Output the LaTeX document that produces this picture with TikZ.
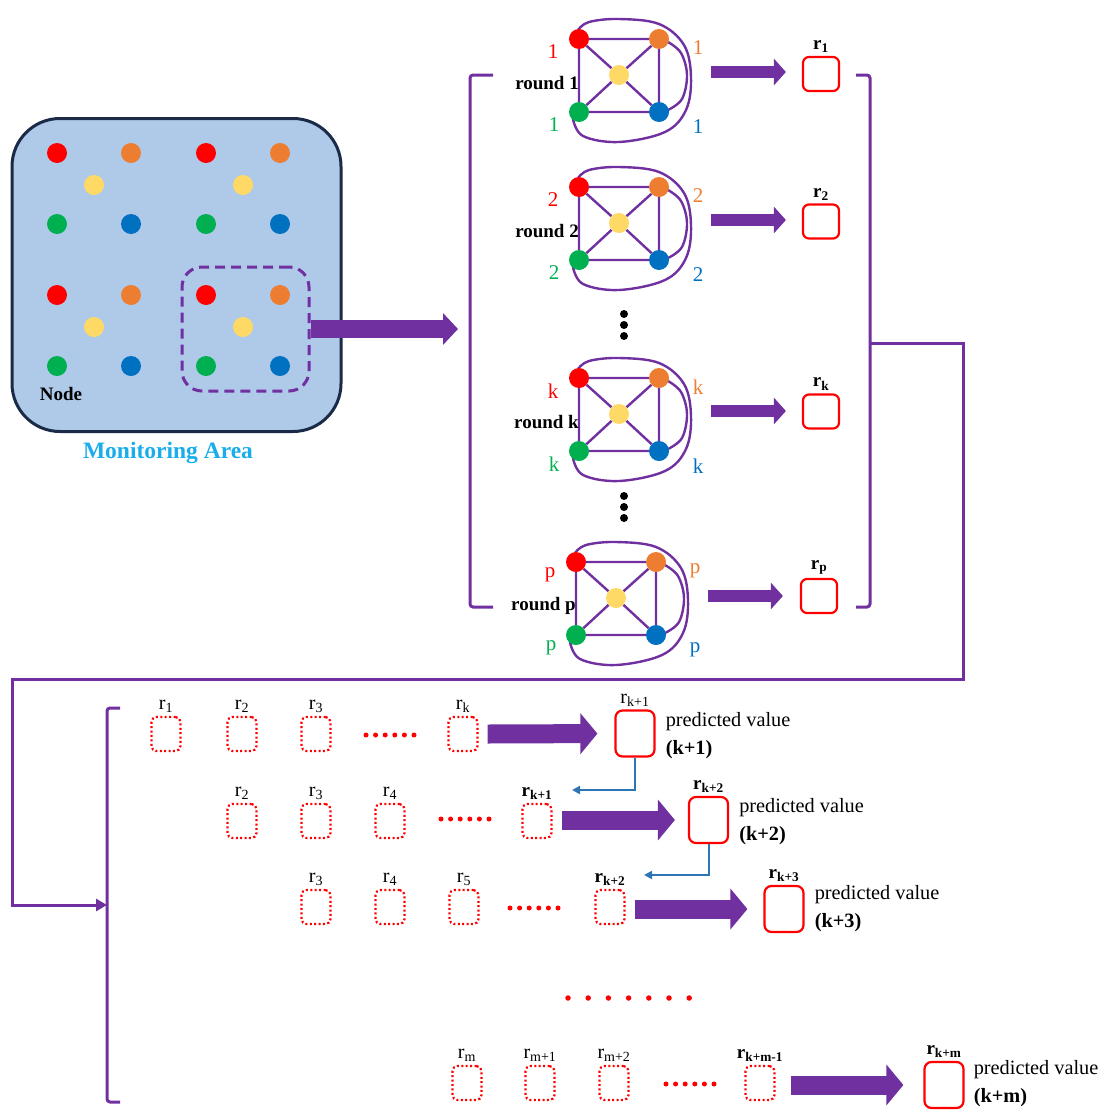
\documentclass[tikz,border=0pt]{standalone}
\usepackage{fontspec}
\setmainfont{Liberation Serif}
\usetikzlibrary{arrows.meta}

\definecolor{cred}{HTML}{FF0000}
\definecolor{corange}{HTML}{ED7D31}
\definecolor{cyellow}{HTML}{FFD966}
\definecolor{cgreen}{HTML}{00B050}
\definecolor{cblue}{HTML}{0070C0}
\definecolor{cpurple}{HTML}{7030A0}
\definecolor{areafill}{HTML}{AFCAE8}
\definecolor{areaedge}{HTML}{1B2A47}
\definecolor{titlecyan}{HTML}{1AADEB}
\definecolor{linkblue}{HTML}{2E75B6}

\tikzset{
  dot/.style={circle, inner sep=0pt, minimum size=20pt},
  gdot/.style={circle, inner sep=0pt, minimum size=20pt},
  gedge/.style={draw=cpurple, line width=2.4pt},
  num/.style={font=\fontsize{21}{24}\selectfont, inner sep=0pt},
  rlbl/.style={font=\fontsize{19}{22}\selectfont\bfseries, inner sep=0pt},
  rbox/.style={draw=cred, line width=2.2pt, rounded corners=6pt, minimum width=36pt, minimum height=34pt},
  dbox/.style={draw=cred, line width=2.2pt, dash pattern=on 2pt off 2.4pt, rounded corners=5pt, minimum width=29pt, minimum height=34pt},
  pbox/.style={draw=cred, line width=2.2pt, rounded corners=7pt, minimum width=39pt, minimum height=46pt},
  toplab/.style={font=\fontsize{19}{22}\selectfont\bfseries, inner sep=0pt, anchor=south},
  seqlab/.style={font=\fontsize{20}{22}\selectfont, inner sep=0pt, anchor=south},
  seqlabb/.style={font=\fontsize{19}{22}\selectfont\bfseries, inner sep=0pt, anchor=south},
  ptext/.style={font=\fontsize{20.3}{28}\selectfont, align=left, anchor=west, inner sep=0pt},
  bracket/.style={draw=cpurple, line width=3pt, rounded corners=3pt},
  conn/.style={draw=cpurple, line width=3pt, -{Triangle[length=11pt,width=12pt]}},
  bigarrow/.style={draw=cpurple, line width=18pt, -{Triangle[length=15pt,width=31pt]}},
  midarrow/.style={draw=cpurple, line width=12pt, -{Triangle[length=12pt,width=26pt]}},
  rowarrow/.style={draw=cpurple, line width=19pt, -{Triangle[length=17pt,width=40pt]}},
  bconn/.style={draw=linkblue, line width=2pt, -{Triangle[length=8pt,width=8pt]}},
  reddot/.style={circle, fill=cred, inner sep=0pt, minimum size=5pt},
  blackdot/.style={circle, fill=black, inner sep=0pt, minimum size=8pt},
  pics/wsn/.style={code={
    % outer loops of the round graph
    \draw[gedge] plot[smooth, tension=0.6] coordinates {(-46,44) (-36,61) (0,67) (46,57) (67,35) (72,2) (65,-30) (40,-51) (0,-56) (-30,-53) (-41,-45)};
    \draw[gedge] plot[smooth, tension=0.6] coordinates {(49,-33) (62,-22) (68,0) (63,24) (49,35)};
    % sensor nodes of the round
    \node[gdot,fill=cred] (-r) at (-40,-36) {};
    \node[gdot,fill=corange] (-o) at (40,-36) {};
    \node[gdot,fill=cgreen] (-g) at (-40,37) {};
    \node[gdot,fill=cblue] (-b) at (40,37) {};
    \node[gdot,fill=cyellow] (-y) at (0,0) {};
    \draw[gedge] (-r) -- (-o) (-o) -- (-b) (-b) -- (-g) (-g) -- (-r)
      (-y) -- (-r) (-y) -- (-o) (-y) -- (-g) (-y) -- (-b);
    \node[num,text=cred] (-lr) at (-66,-23) {#1};
    \node[num,text=corange] (-lo) at (79,-27) {#1};
    \node[num,text=cgreen] (-lg) at (-65,50) {#1};
    \node[num,text=cblue] (-lb) at (79,52) {#1};
    \node[rlbl,anchor=east] (-t) at (-40,8) {round #1};
  }}
}

\begin{document}
\begin{tikzpicture}[x=1pt,y=-1pt]
\useasboundingbox (0,0) rectangle (1106,1111);

% ---------- monitoring area ----------
\node[draw=areaedge, fill=areafill, line width=3pt, rounded corners=48pt,
      minimum width=329pt, minimum height=313pt] (area) at (176.5,275) {};
\foreach \x/\c [count=\i] in {57/cred,131/corange,206/cred,280/corange}{
  \node[dot,fill=\c] (a1\i) at (\x,153) {};
  \node[dot,fill=\c] (a3\i) at (\x,295) {};
}
\foreach \x/\c [count=\i] in {57/cgreen,131/cblue,206/cgreen,280/cblue}{
  \node[dot,fill=\c] (a2\i) at (\x,224) {};
  \node[dot,fill=\c] (a4\i) at (\x,366) {};
}
\foreach \x [count=\i] in {94,243}{
  \node[dot,fill=cyellow] (ay1\i) at (\x,185) {};
  \node[dot,fill=cyellow] (ay2\i) at (\x,327) {};
}
\node[draw=cpurple, dashed, dash pattern=on 10pt off 6pt, line width=3pt, rounded corners=20pt,
      minimum width=127pt, minimum height=124pt] (sel) at (245.5,329) {};
\node[font=\fontsize{19}{22}\selectfont\bfseries] (nodelab) at (61,394) {Node};
\node[font=\fontsize{23.5}{26}\selectfont\bfseries, text=titlecyan] (title) at (168,453) {Monitoring Area};

% ---------- rounds ----------
\draw[bracket] (493,75) -- (470,75) -- (470,607) -- (493,607);
\coordinate (brL) at (458,329);
\draw[bigarrow] (sel.east) -- (brL);

\pic (g1) at (619,75) {wsn=1};
\pic (g2) at (619,223) {wsn=2};
\pic (gk) at (619,414) {wsn=k};
\pic (gp) at (616,598) {wsn=p};

\foreach \y [count=\i] in {314,325,336}{
  \node[blackdot] (vd1\i) at (624,\y) {};
  \node[blackdot] (vd2\i) at (624,\y+182) {};
}

\node[rbox] (r1) at (821,74) {};
\node[rbox] (r2) at (821,221.5) {};
\node[rbox] (rk) at (821,411.5) {};
\node[rbox] (rp) at (819,596) {};
\node[toplab] at ([yshift=3pt]r1.north) {r\textsubscript{1}};
\node[toplab] at ([yshift=3pt]r2.north) {r\textsubscript{2}};
\node[toplab] at ([yshift=3pt]rk.north) {r\textsubscript{k}};
\node[toplab] at ([yshift=3pt]rp.north) {r\textsubscript{p}};

\coordinate (s1) at (711,72);
\coordinate (s2) at (711,220);
\coordinate (sk) at (711,411);
\coordinate (sp) at (708,596);
\draw[midarrow, shorten >=16pt] (s1) -- (s1 -| r1.west);
\draw[midarrow, shorten >=16pt] (s2) -- (s2 -| r2.west);
\draw[midarrow, shorten >=16pt] (sk) -- (sk -| rk.west);
\draw[midarrow, shorten >=17pt] (sp) -- (sp -| rp.west);

\draw[bracket] (856,75) -- (870,75) -- (870,607) -- (856,607);
\coordinate (brR) at (870,343);
\coordinate (brB) at (107,905);
\draw[conn] (brR) -- (963,343) |- (12,679) |- (brB);
\draw[bracket] (120,708) -- (107,708) -- (107,1102) -- (120,1102);

% ---------- prediction sequences ----------
% row 1
\foreach \x/\s [count=\i] in {166/1,242/2,316/3}{
  \node[dbox] (q1\i) at (\x,734) {};
  \node[seqlab] at ([yshift=3pt]q1\i.north) {r\textsubscript{\s}};
}
\node[dbox] (q1k) at (463,734) {};
\node[seqlab] at ([yshift=3pt]q1k.north) {r\textsubscript{k}};
\foreach \i in {0,...,5} \node[reddot] (e1\i) at (366+9.6*\i,735) {};
\node[pbox] (P1) at (635,733.5) {};
\node[seqlab] at ([yshift=3pt]P1.north) {r\textsubscript{k+1}};
\node[ptext] (t1) at ([xshift=10pt,yshift=-2pt]P1.east) {predicted value\\\textbf{(k+1)}};
\draw[rowarrow, shorten >=17pt] ([xshift=9pt]q1k.east) -- (P1.west);

% row 2
\foreach \x/\s [count=\i] in {242/2,316/3,390/4}{
  \node[dbox] (q2\i) at (\x,821) {};
  \node[seqlab] at ([yshift=3pt]q2\i.north) {r\textsubscript{\s}};
}
\node[dbox] (q2k) at (537,821) {};
\node[seqlabb] at ([yshift=3pt]q2k.north) {r\textsubscript{k+1}};
\foreach \i in {0,...,5} \node[reddot] (e2\i) at (441+9.6*\i,819) {};
\node[pbox] (P2) at (708.5,820) {};
\node[seqlabb] at ([yshift=3pt]P2.north) {r\textsubscript{k+2}};
\node[ptext] (t2) at ([xshift=10pt,yshift=-2pt]P2.east) {predicted value\\\textbf{(k+2)}};
\draw[rowarrow, shorten >=13pt] ([xshift=9pt]q2k.east |- P2.west) -- (P2.west);

% row 3
\foreach \x/\s [count=\i] in {316/3,390/4,464/5}{
  \node[dbox] (q3\i) at (\x,907) {};
  \node[seqlab] at ([yshift=3pt]q3\i.north) {r\textsubscript{\s}};
}
\node[dbox] (q3k) at (610,907) {};
\node[seqlabb] at ([yshift=3pt]q3k.north) {r\textsubscript{k+2}};
\foreach \i in {0,...,5} \node[reddot] (e3\i) at (510+9.6*\i,908) {};
\node[pbox] (P3) at (784,909) {};
\node[seqlabb] at ([yshift=3pt]P3.north) {r\textsubscript{k+3}};
\node[ptext] (t3) at ([xshift=10pt]P3.east) {predicted value\\\textbf{(k+3)}};
\draw[rowarrow, shorten >=16pt] ([xshift=9pt]q3k.east |- P3.west) -- (P3.west);

% continuation dots
\foreach \i in {0,...,6} \node[reddot, minimum size=5.5pt] (m\i) at (568+20.2*\i,998) {};

% row m
\foreach \x/\s [count=\i] in {467/m,540/m+1,614/m+2}{
  \node[dbox] (q4\i) at (\x,1083) {};
  \node[seqlab] at ([yshift=3pt]q4\i.north) {r\textsubscript{\s}};
}
\node[dbox] (q4k) at (760,1083) {};
\node[seqlabb] at ([yshift=3pt]q4k.north) {r\textsubscript{k+m-1}};
\foreach \i in {0,...,5} \node[reddot] (e4\i) at (666+9.6*\i,1084) {};
\node[pbox] (Pm) at (944,1085) {};
\node[seqlabb] at ([yshift=3pt]Pm.north) {r\textsubscript{k+m}};
\node[ptext] (tm) at ([xshift=9pt,yshift=1pt]Pm.east) {predicted value\\\textbf{(k+m)}};
\draw[rowarrow, shorten >=20pt] ([xshift=15pt]q4k.east |- Pm.west) -- (Pm.west);

% feedback of each prediction into the next sequence
\coordinate (f1) at (572,790);
\coordinate (f2) at (644,875);
\draw[bconn] (P1.south) |- (f1);
\draw[bconn] (P2.south) |- (f2);
\end{tikzpicture}
\end{document}
